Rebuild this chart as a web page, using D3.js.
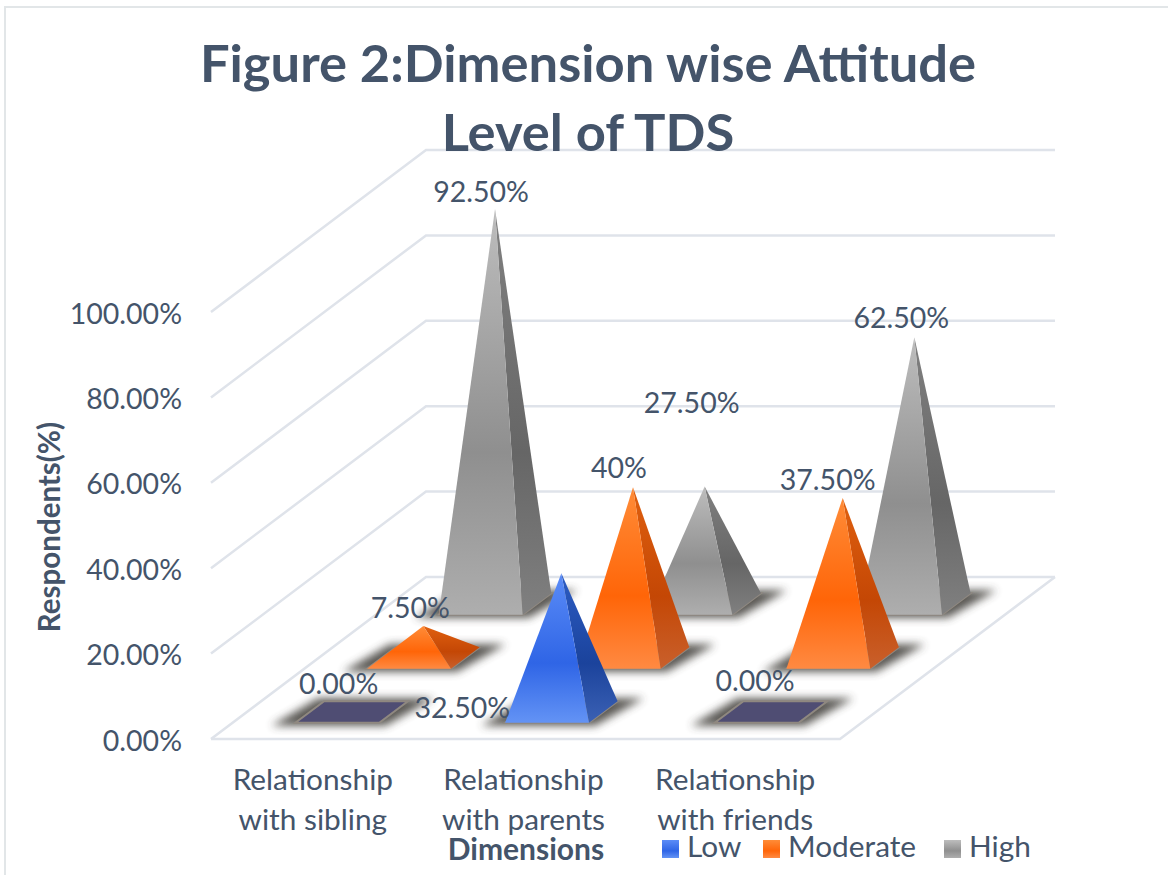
<!DOCTYPE html>
<html>
<head>
<meta charset="utf-8">
<script src="https://cdn.jsdelivr.net/npm/d3@7"></script>
<style>
  html, body { margin: 0; padding: 0; background: #fff; }
  text { font-family: Lato, "Open Sans", sans-serif; fill: #44546a; }
</style>
</head>
<body>
<svg id="chart" width="1168" height="875"></svg>
<script>
// values
const categories = ['Relationship with sibling', 'Relationship with parents', 'Relationship with friends']
const seriesNames = ['Low', 'Moderate', 'High']
const low = [0, 32.5, 0]
const moderate = [7.5, 40, 37.5]
const high = [92.5, 27.5, 62.5]
const lowLabels = ['0.00%', '32.50%', '0.00%']
const moderateLabels = ['7.50%', '40%', '37.50%']
const highLabels = ['92.50%', '27.50%', '62.50%']
const axisTicks = [0, 20, 40, 60, 80, 100]

const seriesValues = { Low: low, Moderate: moderate, High: high }
const seriesLabels = { Low: lowLabels, Moderate: moderateLabels, High: highLabels }

// label nudges from the apex of each pyramid, [dx, dy] of the text baseline
const labelNudge = {
    Low: [[-13, -18], [-99, 145], [-16, -21]],
    Moderate: [[-13, -8], [-14, -9], [-15, -8]],
    High: [[-14, -7], [-13, -74], [-13, -9]]
}

const colors = {
    Low: { front: ['#5b8cf7', '#2f65e6', '#6393f5'], side: ['#2c5cc4', '#1b439c', '#3b61b4'] },
    Moderate: { front: ['#ff8c38', '#ff6508', '#ff8a42'], side: ['#e0600f', '#c44705', '#c9602c'] },
    High: { front: ['#bdbdbd', '#8f8f8f', '#aeaeae'], side: ['#808080', '#666666', '#808080'] }
}

const floor = { left: 211, bottom: 739, width: 629, depthX: 215, depthY: 162 }
const wallHeight = 427

const svg = d3.select('#chart')
const defs = svg.append('defs')

defs.append('filter').attr('id', 'blur')
    .attr('x', '-40%').attr('y', '-80%').attr('width', '180%').attr('height', '260%')
    .append('feGaussianBlur').attr('stdDeviation', 4.5)

function gradient(id, stops) {
    const g = defs.append('linearGradient').attr('id', id)
        .attr('x1', 0).attr('y1', 0).attr('x2', 0).attr('y2', 1)
    g.selectAll('stop').data(stops).join('stop')
        .attr('offset', (d, i) => [0, 0.6, 1][i])
        .attr('stop-color', d => d)
}
for (const name of seriesNames) {
    gradient('front-' + name, colors[name].front)
    gradient('side-' + name, colors[name].side)
}

const xScale = d3.scaleBand().domain(categories)
    .range([floor.left, floor.left + floor.width])
    .paddingInner(0.6).paddingOuter(0.3)
const depthScale = d3.scaleBand().domain(seriesNames)
    .range([0, 1])
    .paddingInner(0.6).paddingOuter(0.3)
const yScale = d3.scaleLinear().domain([0, 100]).range([floor.bottom, floor.bottom - wallHeight])

// oblique projection of (x on the front edge, depth 0..1, value)
function project(x, depth, value) {
    return [x + floor.depthX * depth, yScale(value) - floor.depthY * depth]
}
const toPoints = pts => pts.map(p => p.join(',')).join(' ')

// frame of the picture
svg.append('path')
    .attr('d', 'M5,875V7H1168')
    .attr('fill', 'none').attr('stroke', '#e2e6e8').attr('stroke-width', 2)

// walls and floor
const grid = svg.append('g')
    .attr('fill', 'none').attr('stroke', '#dfe3ea').attr('stroke-width', 2.5)
for (const t of axisTicks) {
    const a = project(floor.left, 0, t)
    const b = project(floor.left, 1, t)
    const c = project(floor.left + floor.width, 1, t)
    grid.append('polyline').attr('points', toPoints([a, b, c]))
}
grid.append('polyline').attr('points', toPoints([
    project(floor.left, 0, 0),
    project(floor.left + floor.width, 0, 0),
    project(floor.left + floor.width, 1, 0)
]))

// value axis
const yAxis = d3.axisLeft(yScale)
    .tickValues(axisTicks)
    .tickFormat(d => d.toFixed(2) + '%')
    .tickSize(0).tickPadding(3)
const axisG = svg.append('g').attr('transform', 'translate(185,2)').call(yAxis)
axisG.select('.domain').remove()
axisG.selectAll('text').attr('font-size', 28.5).style('font-family', 'Lato').style('fill', '#44546a')

// pyramids, back row first
const rows = seriesNames.slice().reverse()
for (const name of rows) {
    const d0 = depthScale(name)
    const d1 = d0 + depthScale.bandwidth()
    categories.forEach((cat, i) => {
        const value = seriesValues[name][i]
        const x0 = xScale(cat)
        const x1 = x0 + xScale.bandwidth()
        const fl = project(x0, d0, 0)
        const fr = project(x1, d0, 0)
        const br = project(x1, d1, 0)
        const bl = project(x0, d1, 0)
        const apex = project((x0 + x1) / 2, (d0 + d1) / 2, value)
        const g = svg.append('g').attr('class', 'pyramid')

        // soft shadow under the base
        g.append('polygon')
            .attr('points', toPoints([
                [fl[0] - 24, fl[1] + 3], [fr[0] + 6, fr[1] + 3],
                [br[0] + 26, br[1] - 3], [bl[0] - 6, bl[1] - 3]
            ]))
            .attr('fill', '#4a4642').attr('opacity', 0.9)
            .attr('filter', 'url(#blur)')
        g.append('polygon')
            .attr('points', toPoints([fl, fr, br, bl]))
            .attr('fill', value === 0 ? '#4f4d73' : '#8a8278')
            .attr('stroke', '#8f8880').attr('stroke-width', 2)

        if (value > 0) {
            g.append('polygon')
                .attr('points', toPoints([fr, br, apex]))
                .attr('fill', 'url(#side-' + name + ')')
            g.append('polygon')
                .attr('points', toPoints([fl, fr, apex]))
                .attr('fill', 'url(#front-' + name + ')')
        }
    })
}

// data labels sit on top of every pyramid
for (const name of rows) {
    const d0 = depthScale(name)
    const dMid = d0 + depthScale.bandwidth() / 2
    categories.forEach((cat, i) => {
        const apex = project(xScale(cat) + xScale.bandwidth() / 2, dMid, seriesValues[name][i])
        const nudge = labelNudge[name][i]
        svg.append('text')
            .attr('x', apex[0] + nudge[0])
            .attr('y', apex[1] + nudge[1])
            .attr('text-anchor', 'middle')
            .attr('font-size', 28.5)
            .text(seriesLabels[name][i])
    })
}

// category labels on two lines
categories.forEach((cat, i) => {
    const words = cat.split(' ')
    const cx = xScale(cat) + xScale.bandwidth() / 2 + [-3, -2, 0][i]
    const t = svg.append('text').attr('text-anchor', 'middle').attr('font-size', 29.8)
    t.append('tspan').attr('x', cx).attr('y', 790).text(words[0])
    t.append('tspan').attr('x', cx).attr('y', 830).text(words.slice(1).join(' '))
})

// titles
const title = svg.append('text')
    .attr('text-anchor', 'middle').attr('font-size', 52.5).attr('font-weight', 700)
title.append('tspan').attr('x', 588).attr('y', 82).text('Figure 2:Dimension wise Attitude')
title.append('tspan').attr('x', 588).attr('y', 151).text('Level of TDS')

svg.append('text')
    .attr('transform', 'translate(60,527) rotate(-90)')
    .attr('text-anchor', 'middle').attr('font-size', 29.5).attr('font-weight', 700)
    .text('Respondents(%)')
svg.append('text')
    .attr('x', 526).attr('y', 860)
    .attr('text-anchor', 'middle').attr('font-size', 30).attr('font-weight', 700)
    .text('Dimensions')

// legend
const legendX = d3.scaleOrdinal().domain(seriesNames).range([662, 763, 944])
const legend = svg.append('g')
for (const name of seriesNames) {
    legend.append('rect')
        .attr('x', legendX(name)).attr('y', 840)
        .attr('width', 17).attr('height', 18)
        .attr('fill', 'url(#front-' + name + ')')
    legend.append('text')
        .attr('x', legendX(name) + 25).attr('y', 857)
        .attr('font-size', 29.8)
        .text(name)
}
</script>
</body>
</html>
